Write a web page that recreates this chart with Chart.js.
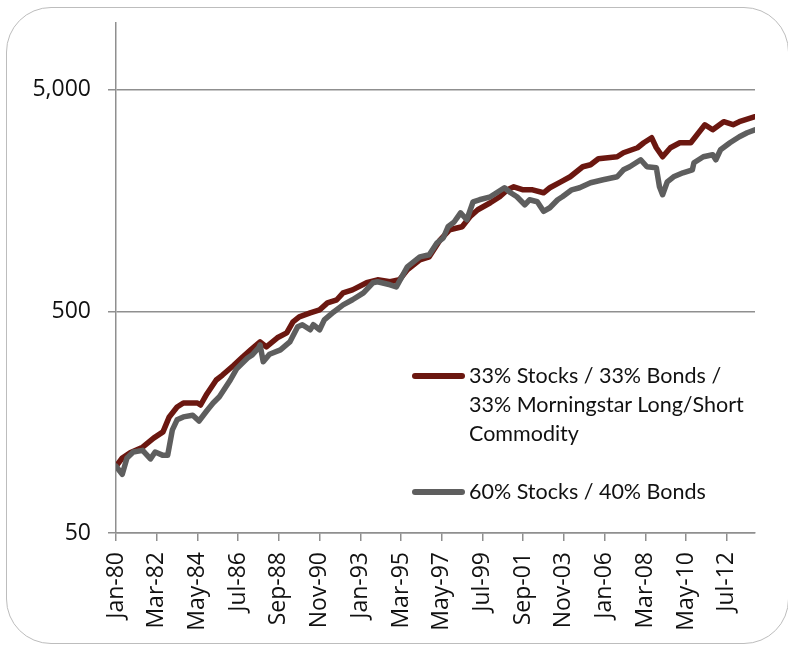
<!DOCTYPE html>
<html>
<head>
<meta charset="utf-8">
<script src="https://cdn.jsdelivr.net/npm/chart.js@4.4.0/dist/chart.umd.min.js"></script>
<style>
  html, body { margin: 0; padding: 0; background: #ffffff; }
  #wrap { position: relative; width: 788px; height: 647px; overflow: hidden; }
  #frame { position: absolute; left: 6px; top: 7px; width: 783px; height: 637px;
           border: 1.5px solid #bdbdbd; border-radius: 45px; box-sizing: border-box; }
  #c { position: absolute; left: 0; top: 0; }
  .leg { position: absolute; font-family: Lato, "Open Sans", sans-serif; font-size: 21.5px;
         line-height: 29px; color: #111; white-space: nowrap; }
  .sw { position: absolute; height: 6px; border-radius: 3px; width: 53px; }
</style>
</head>
<body>
<div id="wrap">
  <div id="frame"></div>
  <canvas id="c" width="788" height="647"></canvas>
  <div class="sw" style="left:412px; top:373px; background:#6b1710;"></div>
  <div class="leg" style="left:469px; top:361px;">33% Stocks / 33% Bonds /<br>33% Morningstar Long/Short<br>Commodity</div>
  <div class="sw" style="left:412px; top:489px; background:#5e5e5e;"></div>
  <div class="leg" style="left:469px; top:477px;">60% Stocks / 40% Bonds</div>
</div>
<script>
// Month offsets since Jan-1980 and growth values
const seriesNames = ["33% Stocks / 33% Bonds / 33% Morningstar Long/Short Commodity", "60% Stocks / 40% Bonds"];

const mixMonths = [0, 4, 9, 17, 24, 30, 34, 39, 43, 52, 54, 58, 64, 68, 75, 81, 86, 92, 96, 103, 109, 113, 117, 124, 130, 135, 141, 145, 151, 160, 167, 175, 181, 186, 194, 200, 207, 213, 221, 226, 231, 239, 245, 250, 254, 260, 266, 273, 277, 284, 290, 298, 303, 308, 314, 320, 324, 333, 337, 342, 345, 349, 354, 360, 367, 371, 376, 381, 388, 394, 398, 408];
const mixValues = [100, 109, 115, 122, 134, 143, 167, 185, 193, 193, 189, 212, 245, 258, 285, 312, 335, 364, 346, 380, 400, 448, 472, 492, 508, 546, 564, 606, 625, 673, 694, 680, 694, 770, 854, 881, 1051, 1167, 1204, 1336, 1437, 1545, 1644, 1768, 1824, 1768, 1768, 1714, 1806, 1921, 2024, 2246, 2293, 2441, 2466, 2492, 2598, 2736, 2882, 3036, 2736, 2492, 2736, 2882, 2882, 3132, 3475, 3299, 3585, 3475, 3585, 3777];

const balMonths = [0, 4, 7, 11, 17, 22, 25, 30, 33, 36, 39, 43, 49, 53, 58, 62, 66, 73, 77, 84, 87, 91, 92, 94, 98, 105, 111, 116, 119, 124, 126, 130, 133, 139, 145, 151, 158, 164, 167, 175, 179, 186, 194, 200, 205, 209, 212, 216, 220, 224, 228, 232, 239, 243, 248, 252, 256, 261, 264, 269, 273, 277, 282, 285, 291, 296, 303, 311, 320, 324, 328, 335, 339, 345, 347, 349, 352, 356, 362, 368, 369, 375, 381, 383, 386, 392, 398, 403, 408];
const balValues = [100, 92, 109, 116, 118, 108, 116, 112, 112, 146, 162, 167, 170, 160, 178, 193, 206, 245, 275, 308, 318, 342, 353, 296, 320, 335, 364, 426, 435, 413, 435, 413, 458, 497, 535, 564, 606, 673, 680, 659, 645, 794, 881, 900, 1019, 1074, 1204, 1268, 1392, 1295, 1561, 1594, 1644, 1714, 1806, 1714, 1644, 1513, 1594, 1561, 1414, 1467, 1594, 1644, 1768, 1806, 1902, 1962, 2024, 2176, 2246, 2415, 2246, 2223, 1824, 1679, 1921, 2024, 2110, 2176, 2341, 2492, 2544, 2415, 2680, 2882, 3068, 3198, 3299];

const xTickLabels = ["Jan-80", "Mar-82", "May-84", "Jul-86", "Sep-88", "Nov-90", "Jan-93", "Mar-95", "May-97", "Jul-99", "Sep-01", "Nov-03", "Jan-06", "Mar-08", "May-10", "Jul-12"];
const xTickStepMonths = 26;
const lastMonth = 408;
const yTickValues = [50, 500, 5000];
const yTickLabels = ["50", "500", "5,000"];

const toPoints = (ms, vs) => ms.map((m, i) => ({ x: m, y: vs[i] }));

const axisGray = '#8f8f8f';
const tickFont = { family: '"Open Sans", sans-serif', size: 23 };

new Chart(document.getElementById('c'), {
  type: 'line',
  data: {
    datasets: [
      { label: seriesNames[1], data: toPoints(balMonths, balValues), borderColor: '#5e5e5e',
        borderWidth: 5.5, pointRadius: 0, tension: 0, borderJoinStyle: 'round', borderCapStyle: 'round' },
      { label: seriesNames[0], data: toPoints(mixMonths, mixValues), borderColor: '#6b1710',
        borderWidth: 5.5, pointRadius: 0, tension: 0, borderJoinStyle: 'round', borderCapStyle: 'round' }
    ]
  },
  options: {
    responsive: false,
    animation: false,
    events: [],
    layout: { padding: { top: 23, right: 33, left: 0, bottom: 0 } },
    plugins: { legend: { display: false }, tooltip: { enabled: false } },
    scales: {
      x: {
        type: 'linear', min: 0, max: lastMonth,
        afterBuildTicks: s => { s.ticks = xTickLabels.map((_, i) => ({ value: i * xTickStepMonths })); },
        afterFit: s => { s.height = 647 - 533; s.paddingLeft = 0; s.paddingRight = 0; },
        ticks: { autoSkip: false, minRotation: 90, maxRotation: 90, padding: 11, color: '#111', font: tickFont,
                 callback: v => xTickLabels[Math.round(v / xTickStepMonths)] },
        grid: { drawOnChartArea: false, drawTicks: true, tickLength: 8, color: axisGray, lineWidth: 1.5 },
        border: { display: true, color: axisGray, width: 1.5 }
      },
      y: {
        type: 'logarithmic', min: 50, max: 10000,
        afterBuildTicks: s => { s.ticks = yTickValues.map(v => ({ value: v })); },
        afterFit: s => { s.width = 116; s.paddingTop = 0; s.paddingBottom = 0; },
        ticks: { padding: 17, color: '#111', font: tickFont,
                 callback: v => yTickLabels[yTickValues.indexOf(v)] },
        grid: { drawOnChartArea: true, drawTicks: true, tickLength: 8, color: axisGray, lineWidth: 1.5 },
        border: { display: true, color: axisGray, width: 1.5 }
      }
    }
  }
});
</script>
</body>
</html>
